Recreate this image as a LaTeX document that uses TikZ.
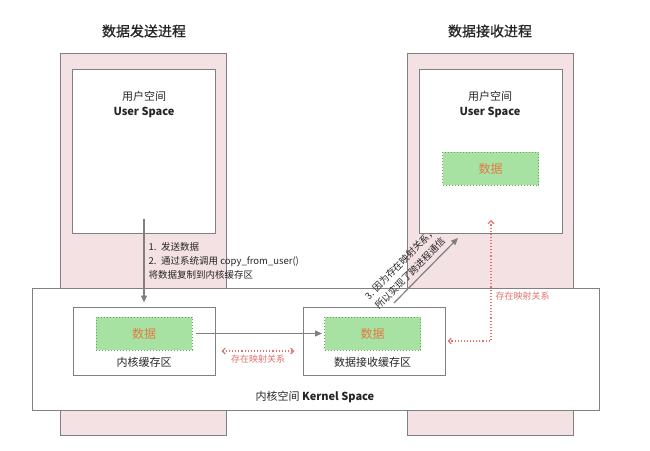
\documentclass[tikz,border=0pt]{standalone}
\usepackage{fontspec}
\setmainfont{Noto Sans CJK SC}
\newfontfamily\titlefont[FakeBold=0.8]{Noto Sans CJK SC}
\usepackage{tikz}
\usetikzlibrary{arrows.meta,positioning,calc}
\definecolor{ProcPink}{HTML}{F4E1E4}
\definecolor{EdgeGray}{HTML}{808080}
\definecolor{DataGreen}{HTML}{A8E2A2}
\definecolor{DashGreen}{HTML}{5DAA57}
\definecolor{DataOrange}{HTML}{E27A45}
\definecolor{MapRed}{HTML}{E0736C}
\definecolor{TextGray}{HTML}{262626}

\begin{document}
\begin{tikzpicture}[x=1pt, y=-1pt,
  proc/.style={rectangle, draw=EdgeGray, fill=ProcPink, line width=1pt, minimum width=166pt, minimum height=382pt, inner sep=0pt},
  userbox/.style={rectangle, draw=EdgeGray, fill=white, line width=1pt, minimum width=143pt, minimum height=164pt, inner sep=0pt},
  kernel/.style={rectangle, draw=EdgeGray, fill=white, line width=1pt, minimum width=567pt, minimum height=122pt, inner sep=0pt},
  buffer/.style={rectangle, draw=EdgeGray, fill=white, line width=1pt, minimum width=142pt, minimum height=68pt, inner sep=0pt},
  data/.style={rectangle, draw=DashGreen, dotted, line width=1pt, fill=DataGreen, minimum width=96pt, minimum height=33pt, inner sep=0pt, text=DataOrange, font=\fontsize{12}{14}\selectfont},
  title/.style={font=\titlefont\fontsize{14}{16}\selectfont, text=TextGray},
  lbl/.style={font=\fontsize{11}{15}\selectfont, text=TextGray, align=center},
  note/.style={font=\fontsize{9.5}{14}\selectfont, text=TextGray, align=left},
  maptext/.style={font=\fontsize{9}{11}\selectfont, text=MapRed},
  arrow/.style={-{Triangle[length=7pt,width=6pt]}, line width=1.2pt, EdgeGray},
  maparrow/.style={{Straight Barb[length=3pt,width=6pt]}-{Straight Barb[length=3pt,width=6pt]}, dotted, line width=1.1pt, MapRed}
]
\useasboundingbox (0,0) rectangle (650,450);

% Processes
\node[proc] (sender) at (143,244) {};
\node[proc] (receiver) at (490,244) {};
\node[title] (sendtitle) at (144,31) {数据发送进程};
\node[title] (recvtitle) at (490,31) {数据接收进程};

% User space
\node[userbox] (suser) at (143.5,151) {};
\node[userbox] (ruser) at (490.5,151) {};
\node[lbl] at (144,104.5) {用户空间\\\textbf{User Space}};
\node[lbl] at (490,104.5) {用户空间\\\textbf{User Space}};
\node[data] (rdata) at (490.5,168.5) {数据};

% Kernel space
\node[kernel] (kspace) at (315.5,349) {};
\node[lbl] (klabel) at (315,397) {内核空间 \textbf{Kernel Space}};
\node[buffer] (lbuf) at (144,341) {};
\node[buffer] (rbuf) at (374,341) {};
\node[data] (ldata) at (144,333.5) {数据};
\node[data] (kdata) at (372.5,333.5) {数据};
\node[lbl, below=3pt of ldata] {内核缓存区};
\node[lbl, below=3pt of kdata] {数据接收缓存区};

% Send path
\coordinate (sendtop) at (144,219);
\draw[arrow, shorten >=4pt] (sendtop) -- (lbuf.north);
\node[note, anchor=west] at (145,261) {1.\enspace 发送数据\\2.\enspace 通过系统调用 copy\_from\_user()\\将数据复制到内核缓存区};
\draw[arrow, shorten <=3pt, shorten >=2pt] (ldata.east) -- (kdata.west);

% Mapping
\draw[maparrow] ($(lbuf.east)+(6,10)$) -- node[maptext, below=0pt] {存在映射关系} ($(rbuf.west)+(-8,10)$);
\coordinate (maptop) at (491,220);
\draw[maparrow] (maptop) |- ([xshift=2pt]rbuf.east);
\node[maptext, anchor=west] at (492,296) {存在映射关系};

% Cross-process
\coordinate (crossA) at (394,303);
\coordinate (crossB) at (458,238);
\draw[arrow] (crossA) -- node[note, sloped, above=1pt, pos=0.36] {3. 因为存在映射关系，\\所以实现了跨进程通信} (crossB);

\end{tikzpicture}
\end{document}
